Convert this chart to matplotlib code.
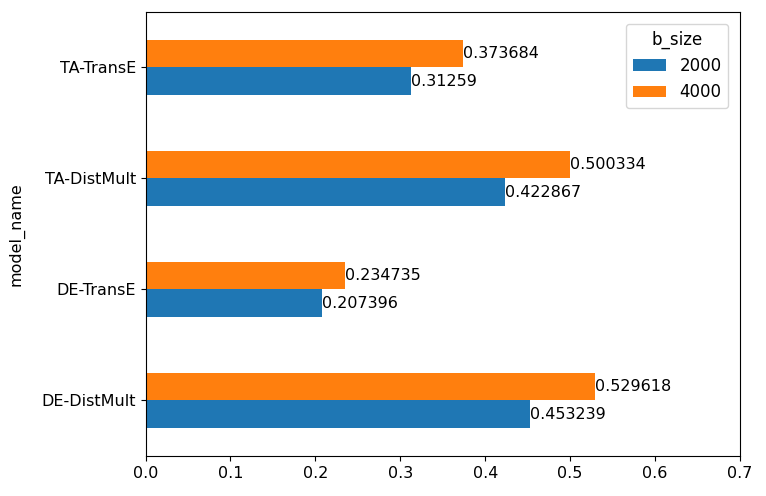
import matplotlib.pyplot as plt
import numpy as np

models = ["DE-DistMult", "DE-TransE", "TA-DistMult", "TA-TransE"]
b_sizes = ["2000", "4000"]
vals_2000 = [0.453239, 0.207396, 0.422867, 0.31259]
vals_4000 = [0.529618, 0.234735, 0.500334, 0.373684]

fig = plt.figure(figsize=(7.66, 4.96), dpi=100)
ax = fig.add_axes([0.19, 0.081, 0.776, 0.895])

y = np.arange(len(models))
h = 0.25
b1 = ax.barh(y - h / 2, vals_2000, h, color="#1f77b4", label=b_sizes[0])
b2 = ax.barh(y + h / 2, vals_4000, h, color="#ff7f0e", label=b_sizes[1])

for bars, vals in [(b1, vals_2000), (b2, vals_4000)]:
    ax.bar_label(bars, labels=[str(v) for v in vals], fontsize=11.5)

ax.set_yticks(y)
ax.set_yticklabels(models, fontsize=11.5)
ax.tick_params(axis="x", labelsize=11.5)
ax.set_xlim(0, 0.7)
ax.set_ylim(-0.5, 3.5)
ax.set_ylabel("model_name", fontsize=11.5, labelpad=12)
ax.legend(title="b_size", fontsize=12, title_fontsize=12, loc="upper right",
          borderaxespad=0.7)

fig.savefig("out.png")
